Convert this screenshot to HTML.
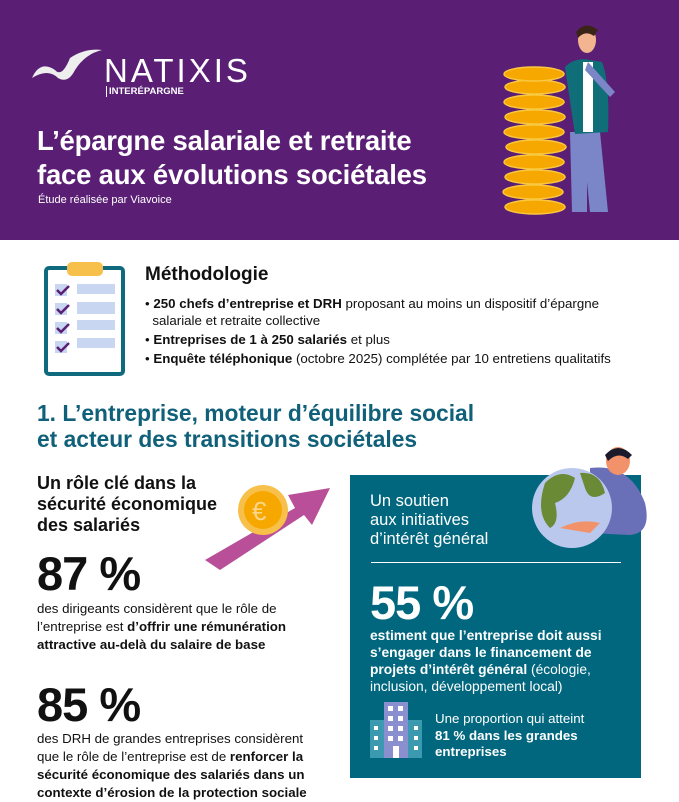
<!DOCTYPE html><html><head><meta charset="utf-8"><style>
*{margin:0;padding:0;box-sizing:border-box}
body{width:679px;height:799px;overflow:hidden;background:#fff;font-family:"Liberation Sans",sans-serif;position:relative;color:#111}
.a{position:absolute;white-space:nowrap}
b{font-weight:bold}
</style></head><body>
<div class="a" style="left:0;top:0;width:679px;height:240px;background:#5a1f74"></div>
<svg class="a" style="left:30px;top:48px" width="75" height="38"><path d="M2 30 Q10 12 25 22 Q32 30 40 10 Q55 0 72 2 Q55 6 45 22 Q38 36 28 30 Q18 20 2 30Z" fill="#eee"/></svg>
<div class="a" style="left:104px;top:52px;color:#fff;font-size:33px;letter-spacing:3px">NATIXIS</div>
<div class="a" style="left:106px;top:86px;color:#fff;font-size:9.5px;font-weight:bold;border-left:1px solid #fff;padding-left:2px">INTERÉPARGNE</div>
<div class="a" style="left:37px;top:124px;color:#fff;font-size:27.5px;font-weight:bold;line-height:34px;letter-spacing:-0.2px">L’épargne salariale et retraite<br>face aux évolutions sociétales</div>
<div class="a" style="left:38px;top:194px;color:#fff;font-size:11px">Étude réalisée par Viavoice</div>
<svg class="a" style="left:490px;top:22px" width="150" height="195">
<g fill="#f7a800" stroke="#f9c840" stroke-width="1.5">
<ellipse cx="45" cy="185" rx="30" ry="7"/><ellipse cx="43" cy="170" rx="30" ry="7"/><ellipse cx="45" cy="155" rx="30" ry="7"/><ellipse cx="44" cy="140" rx="30" ry="7"/><ellipse cx="46" cy="125" rx="30" ry="7"/><ellipse cx="44" cy="110" rx="30" ry="7"/><ellipse cx="45" cy="95" rx="30" ry="7"/><ellipse cx="44" cy="80" rx="30" ry="7"/><ellipse cx="45" cy="65" rx="30" ry="7"/><ellipse cx="44" cy="52" rx="30" ry="7"/></g>
<rect x="85" y="140" width="12" height="50" fill="#7b86c8"/><path d="M80 110 L110 110 L118 190 L100 190 L95 140 L92 190 L82 190Z" fill="#7b86c8"/>
<path d="M75 45 Q85 35 100 38 L112 40 Q120 60 118 110 L85 112 Q80 80 75 45Z" fill="#0f6e78"/>
<rect x="93" y="40" width="10" height="70" fill="#fff"/><path d="M98 40 L125 70 L120 75 L95 48Z" fill="#7b86c8"/>
<ellipse cx="97" cy="18" rx="9" ry="13" fill="#f2b58f"/><path d="M86 10 Q95 -2 108 8 L104 14 Q95 8 88 16Z" fill="#3a2418"/>
</svg>
<svg class="a" style="left:43px;top:262px" width="84" height="115"><rect x="3" y="6" width="77" height="106" rx="3" fill="#fff" stroke="#0f6a7e" stroke-width="4"/><rect x="24" y="0" width="36" height="14" rx="5" fill="#f7c04a"/>
<g fill="#c9d6f2"><rect x="34" y="22" width="38" height="10"/><rect x="34" y="40" width="38" height="12"/><rect x="34" y="58" width="38" height="10"/><rect x="34" y="76" width="38" height="10"/><rect x="12" y="22" width="12" height="12"/><rect x="12" y="41" width="12" height="12"/><rect x="12" y="60" width="12" height="12"/><rect x="12" y="79" width="12" height="12"/></g>
<g stroke="#5a1f74" stroke-width="2.5" fill="none"><path d="M14 28 l4 4 l8 -8"/><path d="M14 47 l4 4 l8 -8"/><path d="M14 66 l4 4 l8 -8"/><path d="M14 85 l4 4 l8 -8"/></g></svg>
<div class="a" style="left:145px;top:264px;font-size:19px;font-weight:bold">Méthodologie</div>
<div class="a" style="left:145px;top:295px;font-size:13.3px;line-height:17px">• <b>250 chefs d’entreprise et DRH</b> proposant au moins un dispositif d’épargne<br>&nbsp;&nbsp;salariale et retraite collective</div>
<div class="a" style="left:145px;top:332px;font-size:13.3px">• <b>Entreprises de 1 à 250 salariés</b> et plus</div>
<div class="a" style="left:145px;top:351px;font-size:13.3px">• <b>Enquête téléphonique</b> (octobre 2025) complétée par 10 entretiens qualitatifs</div>
<div class="a" style="left:37px;top:400px;font-size:22.8px;font-weight:bold;color:#10607a;line-height:26px">1. L’entreprise, moteur d’équilibre social<br>et acteur des transitions sociétales</div>
<div class="a" style="left:37px;top:473px;font-size:18px;font-weight:bold;line-height:21px">Un rôle clé dans la<br>sécurité économique<br>des salariés</div>
<svg class="a" style="left:200px;top:480px" width="140" height="90"><path d="M5 80 L95 28 L88 15 L130 8 L112 45 L104 35 L20 90Z" fill="#b84f98"/><circle cx="63" cy="30" r="25" fill="#f7c04a"/><circle cx="63" cy="30" r="19" fill="#f7a800"/><text x="52" y="40" font-size="26" fill="#fbd58a" font-family="Liberation Sans">€</text></svg>
<div class="a" style="left:37px;top:546px;font-size:47px;font-weight:bold;letter-spacing:-1px">87 %</div>
<div class="a" style="left:37px;top:600px;font-size:13.3px;line-height:18px">des dirigeants considèrent que le rôle de<br>l’entreprise est <b>d’offrir une rémunération<br>attractive au-delà du salaire de base</b></div>
<div class="a" style="left:37px;top:677px;font-size:47px;font-weight:bold;letter-spacing:-1px">85 %</div>
<div class="a" style="left:37px;top:730px;font-size:13.3px;line-height:18px">des DRH de grandes entreprises considèrent<br>que le rôle de l’entreprise est de <b>renforcer la<br>sécurité économique des salariés dans un<br>contexte d’érosion de la protection sociale</b></div>
<div class="a" style="left:350px;top:475px;width:291px;height:303px;background:#00677f"></div>
<svg class="a" style="left:530px;top:443px" width="120" height="110"><path d="M60 25 Q100 20 115 60 Q122 90 100 92 L60 90Z" fill="#6a70b8"/><circle cx="42" cy="65" r="40" fill="#b9c8ec"/><path d="M15 40 Q30 25 45 35 Q40 55 25 60 Q30 80 20 85 Q5 70 15 40Z M50 30 Q70 28 75 50 Q60 60 55 45Z" fill="#6a8a35"/><ellipse cx="88" cy="18" rx="12" ry="14" fill="#f2926a"/><path d="M75 12 Q88 -2 102 12 L98 16 Q88 8 78 18Z" fill="#1a1a2a"/><path d="M30 85 Q50 75 70 80 L60 90Z" fill="#f2926a"/></svg>
<div class="a" style="left:370px;top:492px;color:#fff;font-size:16.5px;line-height:19px">Un soutien<br>aux initiatives<br>d’intérêt général</div>
<div class="a" style="left:371px;top:562px;width:250px;height:1px;background:#fff"></div>
<div class="a" style="left:370px;top:575px;color:#fff;font-size:47px;font-weight:bold;letter-spacing:-1px">55 %</div>
<div class="a" style="left:370px;top:627px;color:#fff;font-size:13.8px;line-height:17px"><b>estiment que l’entreprise doit aussi<br>s’engager dans le financement de<br>projets d’intérêt général</b> (écologie,<br>inclusion, développement local)</div>
<svg class="a" style="left:370px;top:702px" width="52" height="56"><rect x="0" y="18" width="52" height="38" fill="#3b9ab0"/><rect x="14" y="0" width="24" height="56" fill="#8a8fcf"/><g fill="#fff"><rect x="18" y="4" width="5" height="5"/><rect x="28" y="4" width="5" height="5"/><rect x="18" y="14" width="5" height="5"/><rect x="28" y="14" width="5" height="5"/><rect x="18" y="24" width="5" height="5"/><rect x="28" y="24" width="5" height="5"/><rect x="18" y="34" width="5" height="5"/><rect x="28" y="34" width="5" height="5"/><rect x="23" y="44" width="6" height="12"/><rect x="4" y="24" width="4" height="4"/><rect x="4" y="34" width="4" height="4"/><rect x="4" y="44" width="4" height="4"/><rect x="44" y="24" width="4" height="4"/><rect x="44" y="34" width="4" height="4"/><rect x="44" y="44" width="4" height="4"/></g></svg>
<div class="a" style="left:435px;top:711px;color:#fff;font-size:13.3px;line-height:16.5px">Une proportion qui atteint<br><b>81 % dans les grandes<br>entreprises</b></div>
</body></html>
